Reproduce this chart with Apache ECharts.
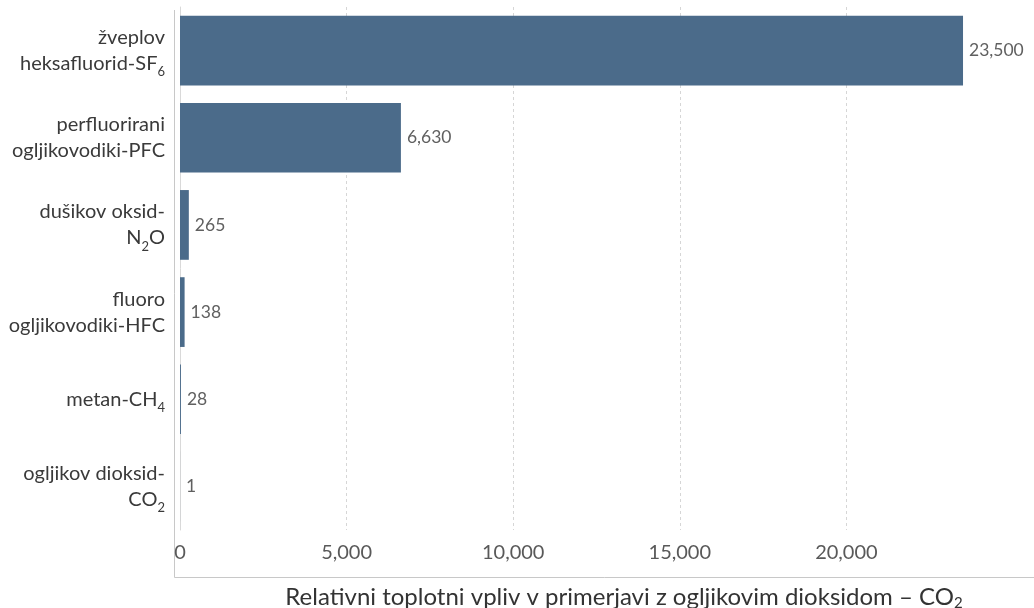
<!DOCTYPE html>
<html>
<head>
<meta charset="utf-8">
<script src="https://cdn.jsdelivr.net/npm/echarts@6/dist/echarts.min.js"></script>
<style>
html,body{margin:0;padding:0;background:#fff;}
#chart{width:1034px;height:608px;}
</style>
</head>
<body>
<div id="chart"></div>
<script>
const categories = [
  'žveplov\nheksafluorid-SF{sub|6}',
  'perfluorirani\nogljikovodiki-PFC',
  'dušikov oksid-\nN{sub|2}O',
  'fluoro\nogljikovodiki-HFC',
  'metan-CH{sub|4}',
  'ogljikov dioksid-\nCO{sub|2}'
];
const values = [23500, 6630, 265, 138, 28, 1];
const xTicks = { min: 0, max: 25000, interval: 5000 };
const axisTitle = 'Relativni toplotni vpliv v primerjavi z ogljikovim dioksidom – CO{sub|2}';

const fmt = v => Number(v).toLocaleString('en-US');
const FONT = 'Lato';
const chart = echarts.init(document.getElementById('chart'));
chart.setOption({
  animation: false,
  backgroundColor: '#ffffff',
  grid: { left: 180, right: 21, top: 7, bottom: 78 },
  xAxis: {
    type: 'value',
    min: xTicks.min, max: xTicks.max, interval: xTicks.interval,
    axisLine: { show: false },
    axisTick: { show: false },
    axisLabel: {
      formatter: fmt, color: '#595959', fontFamily: FONT, fontSize: 20,
      margin: 13, showMaxLabel: false
    },
    splitLine: { show: true, showMinLine: false, showMaxLine: false,
      lineStyle: { color: '#d6d6d6', type: [3, 3], width: 1 } }
  },
  yAxis: {
    type: 'category',
    inverse: true,
    data: categories,
    axisLine: { show: true, lineStyle: { color: '#d9d9d9', width: 1 } },
    axisTick: { show: false },
    axisLabel: {
      color: '#3a3a3a', fontFamily: FONT, fontSize: 20, lineHeight: 26,
      margin: 15, align: 'right',
      rich: {
        sub: { fontSize: 13, fontFamily: FONT, color: '#3a3a3a', verticalAlign: 'bottom', lineHeight: 13, padding: [0, 0, -2, 0] }
      }
    }
  },
  series: [{
    type: 'bar',
    data: values,
    barCategoryGap: '20%',
    itemStyle: { color: '#4b6b8a' },
    label: {
      show: true, position: 'right', distance: 6,
      formatter: p => fmt(p.value),
      color: '#606060', fontFamily: FONT, fontSize: 17.5
    }
  }],
  graphic: [
    { type: 'line', shape: { x1: 174.5, y1: 10, x2: 174.5, y2: 577.5 }, style: { stroke: '#c8c8c8', lineWidth: 1 }, silent: true },
    { type: 'line', shape: { x1: 174.5, y1: 577.5, x2: 1034, y2: 577.5 }, style: { stroke: '#c8c8c8', lineWidth: 1 }, silent: true },
    { type: 'text', x: 624, y: 585, style: {
        text: axisTitle, fill: '#333333', font: '24px Lato', align: 'center',
        rich: { sub: { fontSize: 15, fontFamily: FONT, fill: '#333333', verticalAlign: 'bottom', lineHeight: 15, padding: [0, 0, -2, 0] } }
      }, silent: true }
  ]
});
</script>
</body>
</html>
